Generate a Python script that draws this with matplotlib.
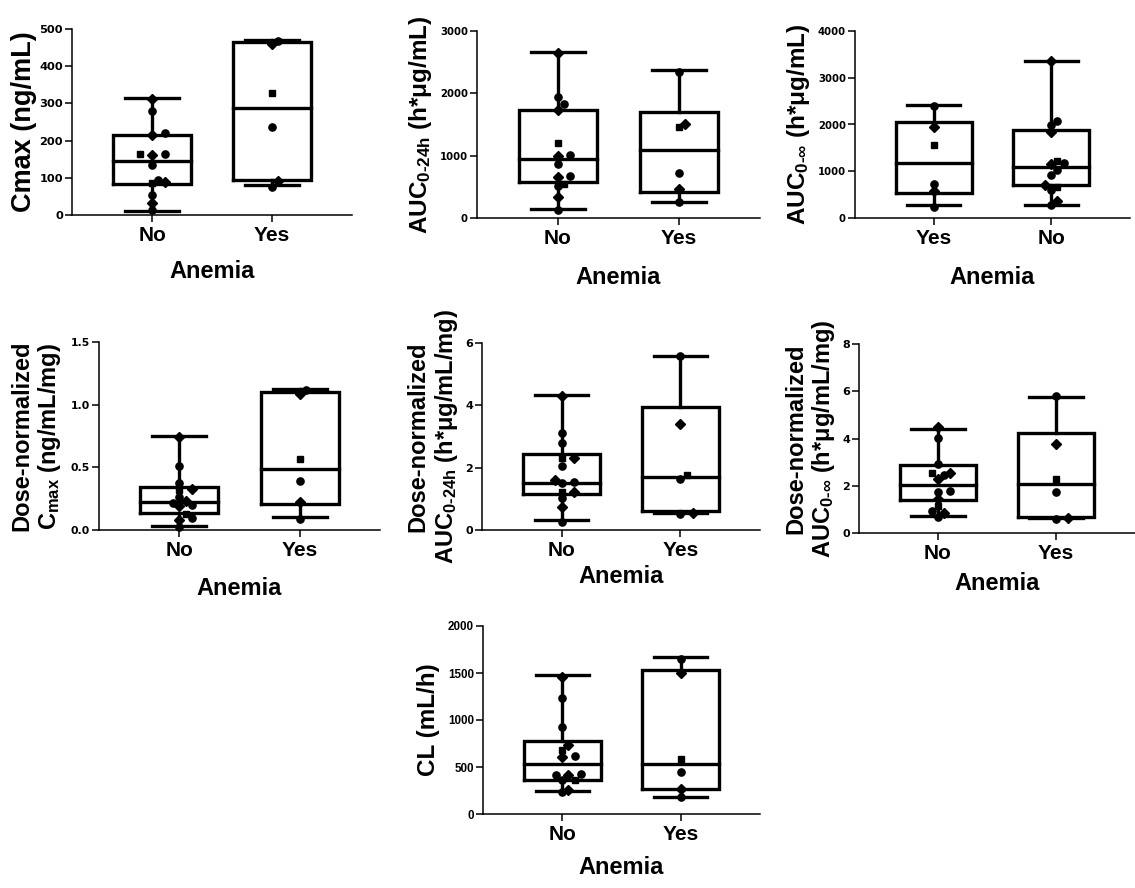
import matplotlib
matplotlib.use("Agg")
import matplotlib.pyplot as plt
import numpy as np

plt.rcParams['font.family'] = ['Liberation Sans', 'DejaVu Sans']
plt.rcParams['font.weight'] = 'bold'
plt.rcParams['mathtext.fontset'] = 'custom'
plt.rcParams['mathtext.rm'] = 'Liberation Sans:bold'
plt.rcParams['mathtext.it'] = 'Liberation Sans:bold'
plt.rcParams['mathtext.bf'] = 'Liberation Sans:bold'
plt.rcParams['mathtext.sf'] = 'Liberation Sans:bold'
plt.rcParams['mathtext.default'] = 'bf'
plt.rcParams['mathtext.fallback'] = 'stixsans'

# ---------------- data ----------------
cats_no_yes = ["No", "Yes"]
cats_yes_no = ["Yes", "No"]

# Cmax (ng/mL)
cmax_no = [13, 33, 54, 85, 88, 95, 135, 160, 163, 165, 215, 220, 280, 311]
cmax_yes = [76, 92, 236, 329, 460, 468]
cmax_box_no = [12, 83, 145, 214, 315]       # whisker low, q1, median, q3, whisker high
cmax_box_yes = [81, 94, 287, 465, 470]
cmax_ticks = [0, 100, 200, 300, 400, 500]

# AUC0-24h
auc24_no = [133, 336, 507, 540, 651, 678, 865, 988, 1014, 1201, 1735, 1826, 1949, 2643]
auc24_yes = [251, 465, 721, 1452, 1506, 2349]
auc24_box_no = [150, 571, 945, 1735, 2659]
auc24_box_yes = [251, 416, 1084, 1708, 2376]
auc24_ticks = [0, 1000, 2000, 3000]

# AUC0-inf (order: Yes, No)
aucinf_yes = [235, 569, 726, 1566, 1936, 2399]
aucinf_no = [285, 356, 605, 662, 712, 925, 1018, 1160, 1174, 1224, 1829, 1993, 2078, 3359]
aucinf_box_yes = [285, 534, 1174, 2043, 2420]
aucinf_box_no = [285, 712, 1089, 1886, 3359]
aucinf_ticks = [0, 1000, 2000, 3000, 4000]

# Dose-normalized Cmax
dncmax_no = [0.021, 0.08, 0.093, 0.13, 0.192, 0.20, 0.215, 0.235, 0.261, 0.32, 0.328, 0.373, 0.514, 0.746]
dncmax_yes = [0.085, 0.226, 0.392, 0.565, 1.085, 1.119]
dncmax_box_no = [0.035, 0.133, 0.224, 0.341, 0.751]
dncmax_box_yes = [0.107, 0.208, 0.488, 1.098, 1.127]
dncmax_ticks = [0.0, 0.5, 1.0, 1.5]

# Dose-normalized AUC0-24h
dnauc24_no = [0.27, 0.75, 1.02, 1.23, 1.23, 1.50, 1.55, 1.61, 2.04, 2.30, 2.30, 2.79, 3.11, 4.31]
dnauc24_yes = [0.50, 0.56, 1.63, 1.77, 3.41, 5.57]
dnauc24_box_no = [0.32, 1.15, 1.52, 2.43, 4.34]
dnauc24_box_yes = [0.54, 0.62, 1.71, 3.94, 5.57]
dnauc24_ticks = [0, 2, 4, 6]

# Dose-normalized AUC0-inf
dnaucinf_no = [0.68, 0.85, 0.93, 1.13, 1.46, 1.74, 1.77, 2.30, 2.45, 2.52, 2.54, 2.90, 4.04, 4.47]
dnaucinf_yes = [0.61, 0.64, 1.74, 2.30, 3.76, 5.80]
dnaucinf_box_no = [0.72, 1.41, 2.05, 2.87, 4.40]
dnaucinf_box_yes = [0.64, 0.68, 2.06, 4.24, 5.77]
dnaucinf_ticks = [0, 2, 4, 6, 8]

# CL (mL/h)
cl_no = [230, 258, 358, 365, 411, 411, 425, 602, 612, 683, 729, 924, 1232, 1462]
cl_yes = [177, 265, 442, 584, 1504, 1650]
cl_box_no = [241, 365, 531, 779, 1480]
cl_box_yes = [180, 269, 531, 1533, 1674]
cl_ticks = [0, 500, 1000, 1500, 2000]

labels = [
    "Cmax (ng/mL)",
    r"AUC$_{0\text{-}24h}$ (h*μg/mL)",
    r"AUC$_{0\text{-}\infty}$ (h*μg/mL)",
    "Dose-normalized\nC$_{max}$ (ng/mL/mg)",
    "Dose-normalized\n" + r"AUC$_{0\text{-}24h}$ (h*μg/mL/mg)",
    "Dose-normalized\n" + r"AUC$_{0\text{-}\infty}$ (h*μg/mL/mg)",
    "CL (mL/h)",
]
xlabel = "Anemia"

# ---------------- layout ----------------
W, H = 1135, 888
fig = plt.figure(figsize=(W / 100, H / 100), dpi=100)

DV = 'DejaVu Sans'
LS = 'Liberation Sans'
panels = [
    dict(rect=(72, 29, 352, 215), cats=cats_no_yes, data=[cmax_no, cmax_yes],
         box=[cmax_box_no, cmax_box_yes], ticks=cmax_ticks, lx=-0.171, ly=-0.306, ls=19.5,
         fmt="{:.0f}", tf=DV, ts=8.2),
    dict(rect=(477, 31, 760, 218), cats=cats_no_yes, data=[auc24_no, auc24_yes],
         box=[auc24_box_no, auc24_box_yes], ticks=auc24_ticks, lx=-0.20, ly=-0.316, ls=17.5,
         fmt="{:.0f}", tf=DV, ts=7.3),
    dict(rect=(855, 31, 1130, 218), cats=cats_yes_no, data=[aucinf_yes, aucinf_no],
         box=[aucinf_box_yes, aucinf_box_no], ticks=aucinf_ticks, lx=-0.207, ly=-0.316, ls=17.5,
         fmt="{:.0f}", tf=DV, ts=7.3),
    dict(rect=(99, 342, 380, 530), cats=cats_no_yes, data=[dncmax_no, dncmax_yes],
         box=[dncmax_box_no, dncmax_box_yes], ticks=dncmax_ticks, lx=-0.222, ly=-0.309, ls=17,
         fmt="{:.1f}", tf=DV, ts=7.8),
    dict(rect=(482, 343, 760, 530), cats=cats_no_yes, data=[dnauc24_no, dnauc24_yes],
         box=[dnauc24_box_no, dnauc24_box_yes], ticks=dnauc24_ticks, lx=-0.176, ly=-0.251, ls=17,
         fmt="{:.0f}", tf=DV, ts=8),
    dict(rect=(859, 344, 1135, 533), cats=cats_no_yes, data=[dnaucinf_no, dnaucinf_yes],
         box=[dnaucinf_box_no, dnaucinf_box_yes], ticks=dnaucinf_ticks, lx=-0.174, ly=-0.265, ls=17,
         fmt="{:.0f}", tf=DV, ts=8),
    dict(rect=(483, 626, 760, 814), cats=cats_no_yes, data=[cl_no, cl_yes],
         box=[cl_box_no, cl_box_yes], ticks=cl_ticks, lx=-0.195, ly=-0.287, ls=17.5,
         fmt="{:.0f}", tf=LS, ts=8.4),
]

XLIM = (-0.67, 1.67)
LW = 2.4
marker_cycle = ['o', 'D', 'o', 's', 'D', 'o']


def swarm(values, ymax, h_px, unit_px, d=6.5):
    ys = np.asarray(values, float) / ymax * h_px
    order = np.argsort(ys)
    placed = []
    xs = np.zeros(len(ys))
    for i in order:
        cand = 0.0
        for k in range(0, 40):
            cand = 0.0 if k == 0 else ((k + 1) // 2) * d * 0.95 * (1 if k % 2 else -1)
            if all((cand - px) ** 2 + (ys[i] - py) ** 2 >= d * d for px, py in placed):
                break
        xs[i] = cand / unit_px
        placed.append((cand, ys[i]))
    return xs


for p, lab in zip(panels, labels):
    l, t, r, b = p["rect"]
    ax = fig.add_axes([l / W, 1 - b / H, (r - l) / W, (b - t) / H])
    ymax = p["ticks"][-1]
    ax.set_xlim(*XLIM)
    ax.set_ylim(0, ymax)
    unit_px = (r - l) / (XLIM[1] - XLIM[0])
    h_px = b - t

    stats = []
    for bx in p["box"]:
        stats.append(dict(whislo=bx[0], q1=bx[1], med=bx[2], q3=bx[3], whishi=bx[4], fliers=[]))
    lp = dict(color='black', linewidth=LW, solid_capstyle='projecting', solid_joinstyle='miter')
    ax.bxp(stats, positions=[0, 1], widths=0.65, showfliers=False,
           boxprops=lp, whiskerprops=lp, capprops=lp, medianprops=lp,
           capwidths=0.45, manage_ticks=False, zorder=2)

    for gi, vals in enumerate(p["data"]):
        xs = swarm(vals, ymax, h_px, unit_px)
        for j, (xo, v) in enumerate(zip(xs, vals)):
            m = marker_cycle[j % len(marker_cycle)]
            ms = 5.2 if m == 'o' else (4.6 if m == 'D' else 4.4)
            ax.plot(gi + xo, v, marker=m, color='black', markersize=ms,
                    linestyle='none', zorder=3, clip_on=False)

    for s in ['top', 'right']:
        ax.spines[s].set_visible(False)
    for s in ['left', 'bottom']:
        ax.spines[s].set_linewidth(1.1)

    ax.set_yticks(p["ticks"])
    ax.set_yticklabels([p["fmt"].format(v) for v in p["ticks"]],
                       fontfamily=p["tf"], fontweight='bold', fontsize=p["ts"])
    ax.set_xticks([0, 1])
    ax.set_xticklabels(p["cats"], fontsize=15, fontweight='bold')
    ax.tick_params(axis='y', direction='out', length=5, width=1.1, pad=1.5)
    ax.tick_params(axis='x', direction='out', length=5, width=1.1, pad=3)

    ax.set_ylabel(lab, fontsize=p["ls"], fontweight='bold', va='center', linespacing=1.15)
    ax.yaxis.set_label_coords(p["lx"], 0.5)
    ax.set_xlabel(xlabel, fontsize=17, fontweight='bold', va='center')
    ax.xaxis.set_label_coords(0.5, p["ly"])

fig.savefig("out.png", dpi=100)
